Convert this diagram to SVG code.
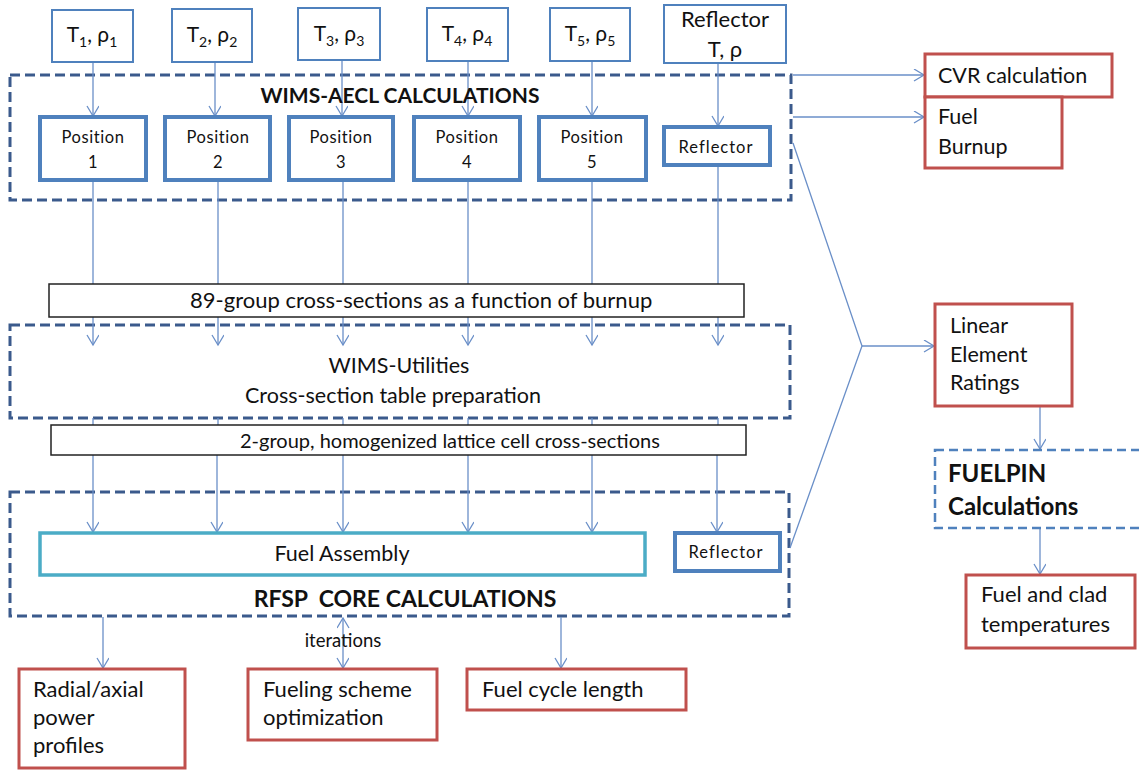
<svg xmlns="http://www.w3.org/2000/svg" width="1139" height="771" viewBox="0 0 1139 771">
<defs>
<style>
text{font-family:Lato,"Liberation Sans",sans-serif;fill:#111}
.in{fill:#fff;stroke:#4F81BD;stroke-width:2}
.pos{fill:#fff;stroke:#4F81BD;stroke-width:4}
.grp{fill:none;stroke:#3B5A8C;stroke-width:3;stroke-dasharray:10 5}
.fp{fill:#fff;stroke:#4F81BD;stroke-width:2.5;stroke-dasharray:9 5}
.red{fill:#fff;stroke:#C0504D;stroke-width:3}
.blk{fill:#fff;stroke:#222;stroke-width:1.5}
.fa{fill:#fff;stroke:#4BACC6;stroke-width:3.5}
.c{fill:none;stroke:#6A8FC8;stroke-width:1.3}
.a{marker-end:url(#ah)}
.t21{font-size:21px}
.t22{font-size:22px}
.t14{font-size:16.5px;letter-spacing:0.6px}
.b{font-weight:bold}
</style>
<marker id="ah" markerUnits="userSpaceOnUse" markerWidth="14" markerHeight="14" refX="11" refY="6" orient="auto"><path d="M1,0 L11,6 L1,12" fill="none" stroke="#6A8FC8" stroke-width="1.3"/></marker>
<marker id="as" markerUnits="userSpaceOnUse" markerWidth="14" markerHeight="14" refX="11" refY="6" orient="auto-start-reverse"><path d="M1,0 L11,6 L1,12" fill="none" stroke="#6A8FC8" stroke-width="1.3"/></marker>
</defs>
<rect width="1139" height="771" fill="#fff"/>

<g id="groups">
<rect id="wims-aecl" class="grp" x="10" y="75" width="781" height="125"/>
<rect id="wims-util" class="grp" x="10" y="325" width="780" height="93"/>
<rect id="rfsp" class="grp" x="10" y="492" width="779" height="124"/>
</g>

<g id="connectors">
<line class="c a" x1="93" y1="63" x2="93" y2="116"/>
<line class="c a" x1="215" y1="62" x2="215" y2="116"/>
<line class="c a" x1="342" y1="60" x2="342" y2="116"/>
<line class="c a" x1="468" y1="61" x2="468" y2="116"/>
<line class="c a" x1="592" y1="61" x2="592" y2="116"/>
<line class="c a" x1="718" y1="63" x2="718" y2="126"/>
<line class="c" x1="93" y1="180" x2="93" y2="284"/>
<line class="c" x1="218" y1="180" x2="218" y2="284"/>
<line class="c" x1="343" y1="180" x2="343" y2="284"/>
<line class="c" x1="468" y1="180" x2="468" y2="284"/>
<line class="c" x1="592" y1="180" x2="592" y2="284"/>
<line class="c" x1="718" y1="165" x2="718" y2="284"/>
<line class="c a" x1="93" y1="317" x2="93" y2="345"/>
<line class="c a" x1="218" y1="317" x2="218" y2="345"/>
<line class="c a" x1="343" y1="317" x2="343" y2="345"/>
<line class="c a" x1="468" y1="317" x2="468" y2="345"/>
<line class="c a" x1="592" y1="317" x2="592" y2="345"/>
<line class="c a" x1="718" y1="317" x2="718" y2="345"/>
<line class="c" x1="93" y1="418" x2="93" y2="425"/>
<line class="c" x1="218" y1="418" x2="218" y2="425"/>
<line class="c" x1="343" y1="418" x2="343" y2="425"/>
<line class="c" x1="468" y1="418" x2="468" y2="425"/>
<line class="c" x1="592" y1="418" x2="592" y2="425"/>
<line class="c" x1="718" y1="418" x2="718" y2="425"/>
<line class="c a" x1="93" y1="455" x2="93" y2="532"/>
<line class="c a" x1="217" y1="455" x2="217" y2="532"/>
<line class="c a" x1="343" y1="455" x2="343" y2="532"/>
<line class="c a" x1="468" y1="455" x2="468" y2="532"/>
<line class="c a" x1="592" y1="455" x2="592" y2="532"/>
<line class="c a" x1="717" y1="455" x2="717" y2="532"/>
<line class="c a" x1="793" y1="75" x2="924" y2="75"/>
<line class="c a" x1="793" y1="117" x2="924" y2="117"/>
<polyline class="c" points="793,143 862,346 790,548"/>
<line class="c a" x1="862" y1="346" x2="934" y2="346"/>
<line class="c a" x1="1040" y1="406" x2="1040" y2="449"/>
<line class="c a" x1="1040" y1="528" x2="1040" y2="574"/>
<line class="c a" x1="103" y1="617" x2="103" y2="668"/>
<line class="c a" x1="343" y1="618" x2="343" y2="668" marker-start="url(#as)"/>
<line class="c a" x1="561" y1="617" x2="561" y2="668"/>
</g>

<text class="b" x="400" y="103" text-anchor="middle" font-size="21">WIMS-AECL CALCULATIONS</text>
<text class="b" x="405" y="607" text-anchor="middle" font-size="23" xml:space="preserve">RFSP  CORE CALCULATIONS</text>
<text x="399" y="373" text-anchor="middle" font-size="21.5">WIMS-Utilities</text>
<text x="393" y="403" text-anchor="middle" font-size="21.5">Cross-section table preparation</text>

<g id="in1"><rect class="in" x="52" y="10" width="81" height="52"/><text x="92" y="42" text-anchor="middle" class="t21">T<tspan font-size="14" dy="5">1</tspan><tspan dy="-5">, ρ</tspan><tspan font-size="14" dy="5">1</tspan></text></g>
<g id="in2"><rect class="in" x="172" y="9" width="80" height="53"/><text x="212" y="42" text-anchor="middle" class="t21">T<tspan font-size="14" dy="5">2</tspan><tspan dy="-5">, ρ</tspan><tspan font-size="14" dy="5">2</tspan></text></g>
<g id="in3"><rect class="in" x="298" y="8" width="82" height="52"/><text x="339" y="41" text-anchor="middle" class="t21">T<tspan font-size="14" dy="5">3</tspan><tspan dy="-5">, ρ</tspan><tspan font-size="14" dy="5">3</tspan></text></g>
<g id="in4"><rect class="in" x="427" y="8" width="81" height="53"/><text x="467" y="41" text-anchor="middle" class="t21">T<tspan font-size="14" dy="5">4</tspan><tspan dy="-5">, ρ</tspan><tspan font-size="14" dy="5">4</tspan></text></g>
<g id="in5"><rect class="in" x="550" y="8" width="80" height="53"/><text x="590" y="41" text-anchor="middle" class="t21">T<tspan font-size="14" dy="5">5</tspan><tspan dy="-5">, ρ</tspan><tspan font-size="14" dy="5">5</tspan></text></g>
<g id="in-refl"><rect class="in" x="664" y="5" width="122" height="58"/><text x="725" y="27" text-anchor="middle" class="t22">Reflector</text><text x="725" y="57" text-anchor="middle" class="t22">T, ρ</text></g>

<g id="pos1"><rect class="pos" x="40" y="117" width="106" height="63"/><text x="93" y="143" text-anchor="middle" class="t14">Position</text><text x="93" y="168" text-anchor="middle" class="t14">1</text></g>
<g id="pos2"><rect class="pos" x="165" y="117" width="105" height="63"/><text x="218" y="143" text-anchor="middle" class="t14">Position</text><text x="218" y="168" text-anchor="middle" class="t14">2</text></g>
<g id="pos3"><rect class="pos" x="289" y="117" width="104" height="63"/><text x="341" y="143" text-anchor="middle" class="t14">Position</text><text x="341" y="168" text-anchor="middle" class="t14">3</text></g>
<g id="pos4"><rect class="pos" x="414" y="117" width="106" height="63"/><text x="467" y="143" text-anchor="middle" class="t14">Position</text><text x="467" y="168" text-anchor="middle" class="t14">4</text></g>
<g id="pos5"><rect class="pos" x="539" y="117" width="107" height="63"/><text x="592" y="143" text-anchor="middle" class="t14">Position</text><text x="592" y="168" text-anchor="middle" class="t14">5</text></g>
<g id="pos-refl"><rect class="pos" x="664" y="127" width="106" height="38"/><text x="716" y="153" text-anchor="middle" font-size="16.5" letter-spacing="1">Reflector</text></g>

<g id="xs89"><rect class="blk" x="49" y="284" width="695" height="33"/><text x="190" y="308" font-size="22">89-group cross-sections as a function of burnup</text></g>
<g id="xs2"><rect class="blk" x="51" y="425" width="695" height="30"/><text x="240" y="448" font-size="20">2-group, homogenized lattice cell cross-sections</text></g>

<g id="fuel-assembly"><rect class="fa" x="40" y="533" width="605" height="42"/><text x="342" y="561" text-anchor="middle" font-size="21.5">Fuel Assembly</text></g>
<g id="core-refl"><rect class="pos" x="675" y="533" width="105" height="38" stroke-width="3"/><text x="726" y="558" text-anchor="middle" font-size="16.5" letter-spacing="1">Reflector</text></g>

<g id="cvr"><rect class="red" x="925" y="54" width="187" height="43"/><text x="938" y="83" font-size="21.5">CVR calculation</text></g>
<g id="burnup"><rect class="red" x="925" y="97" width="137" height="71"/><text x="938" y="124" font-size="21.5">Fuel</text><text x="938" y="154" font-size="21.5">Burnup</text></g>
<g id="ler"><rect class="red" x="935" y="304" width="137" height="102"/><text x="950" y="333" font-size="21.5">Linear</text><text x="950" y="362" font-size="21.5">Element</text><text x="950" y="390" font-size="21.5">Ratings</text></g>
<g id="fuelpin"><rect class="fp" x="935" y="450" width="210" height="78"/><text x="948" y="482" class="b" font-size="24">FUELPIN</text><text x="948" y="515" class="b" font-size="24">Calculations</text></g>
<g id="temps"><rect class="red" x="966" y="575" width="169" height="73"/><text x="981" y="602" class="t22">Fuel and clad</text><text x="981" y="632" class="t22">temperatures</text></g>

<g id="radial"><rect class="red" x="19" y="669" width="166" height="99"/><text x="33" y="697" class="t22">Radial/axial</text><text x="33" y="725" class="t22">power</text><text x="33" y="753" class="t22">profiles</text></g>
<g id="fueling"><rect class="red" x="248" y="669" width="189" height="71"/><text x="263" y="697" class="t22">Fueling scheme</text><text x="263" y="725" class="t22">optimization</text></g>
<g id="cycle"><rect class="red" x="467" y="669" width="219" height="41"/><text x="482" y="697" class="t22">Fuel cycle length</text></g>
<text x="343" y="647" text-anchor="middle" font-size="18.5">iterations</text>
</svg>
